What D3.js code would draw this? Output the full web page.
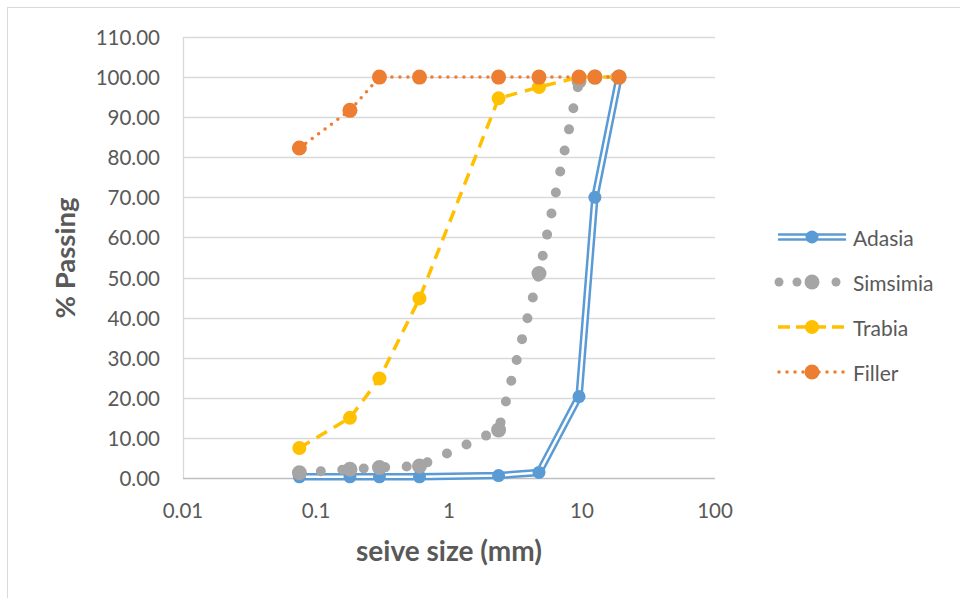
<!doctype html>
<html>
<head>
    <meta charset="utf-8"/>
    <style>
        html, body {
            margin: 0;
            padding: 0;
            background: #fff;
        }
        svg text {
            font-family: Lato, "Open Sans", sans-serif;
            fill: #595959;
        }
    </style>
    <script src="https://d3js.org/d3.v7.min.js"></script>
</head>
<body>
<svg id="chart" width="960" height="598"></svg>

<script>
    // sieve sizes (mm) and % passing for each material
    var sieves = [0.075, 0.18, 0.3, 0.6, 2.36, 4.75, 9.5, 12.5, 19];
    var adasia = [0.3, 0.3, 0.3, 0.3, 0.6, 1.4, 20.3, 70.0, 100.0];
    var simsimia = [1.3, 2.2, 2.6, 3.0, 12.0, 51.0, 99.0, 100.0, 100.0];
    var trabia = [7.5, 15.0, 24.8, 44.8, 94.7, 97.5, 100.0, 100.0, 100.0];
    var filler = [82.3, 91.7, 100.0, 100.0, 100.0, 100.0, 100.0, 100.0, 100.0];

    var xTicks = [0.01, 0.1, 1, 10, 100];
    var yTicks = d3.range(0, 111, 10);
    var seriesNames = ["Adasia", "Simsimia", "Trabia", "Filler"];

    var svg = d3.select("#chart");

    var x = d3.scaleLog().domain([0.01, 100]).range([183, 715]);
    var y = d3.scaleLinear().domain([0, 110]).range([478, 37]);

    // chart border (only top/left edges visible in the picture)
    svg.append("rect")
        .attr("x", 7.5).attr("y", 7.5)
        .attr("width", 1000).attr("height", 700)
        .attr("fill", "none")
        .attr("stroke", "#d9d9d9");

    // horizontal gridlines
    svg.append("g").selectAll("line")
        .data(yTicks.filter(function(d) { return d > 0; }))
        .enter().append("line")
        .attr("x1", x(0.01)).attr("x2", x(100))
        .attr("y1", function(d) { return Math.round(y(d)) + 0.5; })
        .attr("y2", function(d) { return Math.round(y(d)) + 0.5; })
        .attr("stroke", "#d9d9d9")
        .attr("stroke-width", 1.3);

    // axis lines
    svg.append("line")
        .attr("x1", x(0.01) + 0.5).attr("x2", x(0.01) + 0.5)
        .attr("y1", y(110)).attr("y2", y(0))
        .attr("stroke", "#d9d9d9").attr("stroke-width", 1.3);
    svg.append("line")
        .attr("x1", x(0.01)).attr("x2", x(100))
        .attr("y1", Math.round(y(0)) + 0.5).attr("y2", Math.round(y(0)) + 0.5)
        .attr("stroke", "#bfbfbf").attr("stroke-width", 1.3);

    // tick labels
    svg.append("g").selectAll("text")
        .data(yTicks)
        .enter().append("text")
        .attr("x", 160)
        .attr("y", function(d) { return y(d); })
        .attr("text-anchor", "end")
        .attr("dominant-baseline", "central")
        .style("font-size", "20.5px")
        .text(function(d) { return d3.format(".2f")(d); });

    svg.append("g").selectAll("text")
        .data(xTicks)
        .enter().append("text")
        .attr("x", function(d) { return x(d); })
        .attr("y", 510)
        .attr("text-anchor", "middle")
        .attr("dominant-baseline", "central")
        .style("font-size", "20.5px")
        .text(function(d) { return String(d); });

    // axis titles
    svg.append("text")
        .attr("x", 449).attr("y", 550)
        .attr("text-anchor", "middle")
        .attr("dominant-baseline", "central")
        .style("font-size", "28px")
        .style("font-weight", "bold")
        .text("seive size (mm)");

    svg.append("text")
        .attr("transform", "translate(64,258) rotate(-90)")
        .attr("text-anchor", "middle")
        .attr("dominant-baseline", "central")
        .style("font-size", "27.5px")
        .style("font-weight", "bold")
        .text("% Passing");

    var line = d3.line()
        .x(function(d) { return x(d[0]); })
        .y(function(d) { return y(d[1]); });

    function pts(vals) {
        return sieves.map(function(s, i) { return [s, vals[i]]; });
    }

    var plot = svg.append("g");

    // Adasia: double blue line
    plot.append("path").datum(pts(adasia))
        .attr("d", line).attr("fill", "none")
        .attr("stroke", "#5b9bd5").attr("stroke-width", 7.5)
        .attr("stroke-linejoin", "round");
    plot.append("path").datum(pts(adasia))
        .attr("d", line).attr("fill", "none")
        .attr("stroke", "#fff").attr("stroke-width", 2.5)
        .attr("stroke-linejoin", "round");
    plot.append("g").selectAll("circle")
        .data(pts(adasia)).enter().append("circle")
        .attr("cx", function(d) { return x(d[0]); })
        .attr("cy", function(d) { return y(d[1]); })
        .attr("r", 6.5).attr("fill", "#5b9bd5");

    // Simsimia: large round dots
    plot.append("path").datum(pts(simsimia))
        .attr("d", line).attr("fill", "none")
        .attr("stroke", "#a5a5a5").attr("stroke-width", 10)
        .attr("stroke-linecap", "round")
        .attr("stroke-dasharray", "0 21.5");
    plot.append("g").selectAll("circle")
        .data(pts(simsimia)).enter().append("circle")
        .attr("cx", function(d) { return x(d[0]); })
        .attr("cy", function(d) { return y(d[1]); })
        .attr("r", 7.5).attr("fill", "#a5a5a5");

    // Trabia: dashed yellow line
    plot.append("path").datum(pts(trabia))
        .attr("d", line).attr("fill", "none")
        .attr("stroke", "#ffc000").attr("stroke-width", 3.5)
        .attr("stroke-dasharray", "12 8");
    plot.append("g").selectAll("circle")
        .data(pts(trabia)).enter().append("circle")
        .attr("cx", function(d) { return x(d[0]); })
        .attr("cy", function(d) { return y(d[1]); })
        .attr("r", 7).attr("fill", "#ffc000");

    // Filler: dotted orange line
    plot.append("path").datum(pts(filler))
        .attr("d", line).attr("fill", "none")
        .attr("stroke", "#ed7d31").attr("stroke-width", 3.5)
        .attr("stroke-linecap", "round")
        .attr("stroke-dasharray", "0 8");
    plot.append("g").selectAll("circle")
        .data(pts(filler)).enter().append("circle")
        .attr("cx", function(d) { return x(d[0]); })
        .attr("cy", function(d) { return y(d[1]); })
        .attr("r", 7.5).attr("fill", "#ed7d31");

    // legend
    var legendY = [237, 282, 327, 372];
    var lg = svg.append("g");

    // Adasia sample
    lg.append("line").attr("x1", 778).attr("x2", 846).attr("y1", legendY[0]).attr("y2", legendY[0])
        .attr("stroke", "#5b9bd5").attr("stroke-width", 7.5);
    lg.append("line").attr("x1", 778).attr("x2", 846).attr("y1", legendY[0]).attr("y2", legendY[0])
        .attr("stroke", "#fff").attr("stroke-width", 2.5);
    lg.append("circle").attr("cx", 812).attr("cy", legendY[0]).attr("r", 6.5).attr("fill", "#5b9bd5");

    // Simsimia sample
    [779, 797, 836].forEach(function(cx) {
        lg.append("circle").attr("cx", cx).attr("cy", legendY[1]).attr("r", 4.5).attr("fill", "#a5a5a5");
    });
    lg.append("circle").attr("cx", 812).attr("cy", legendY[1]).attr("r", 7.5).attr("fill", "#a5a5a5");

    // Trabia sample
    lg.append("line").attr("x1", 778).attr("x2", 848).attr("y1", legendY[2]).attr("y2", legendY[2])
        .attr("stroke", "#ffc000").attr("stroke-width", 3.5)
        .attr("stroke-dasharray", "12 6");
    lg.append("circle").attr("cx", 812).attr("cy", legendY[2]).attr("r", 7).attr("fill", "#ffc000");

    // Filler sample
    lg.append("line").attr("x1", 779).attr("x2", 846).attr("y1", legendY[3]).attr("y2", legendY[3])
        .attr("stroke", "#ed7d31").attr("stroke-width", 3.5)
        .attr("stroke-linecap", "round")
        .attr("stroke-dasharray", "0 8");
    lg.append("circle").attr("cx", 812).attr("cy", legendY[3]).attr("r", 7.5).attr("fill", "#ed7d31");

    lg.selectAll("text.leg")
        .data(seriesNames).enter().append("text")
        .attr("class", "leg")
        .attr("x", 853)
        .attr("y", function(d, i) { return legendY[i]; })
        .attr("dominant-baseline", "central")
        .style("font-size", "21px")
        .text(function(d) { return d; });
</script>
</body>
</html>
